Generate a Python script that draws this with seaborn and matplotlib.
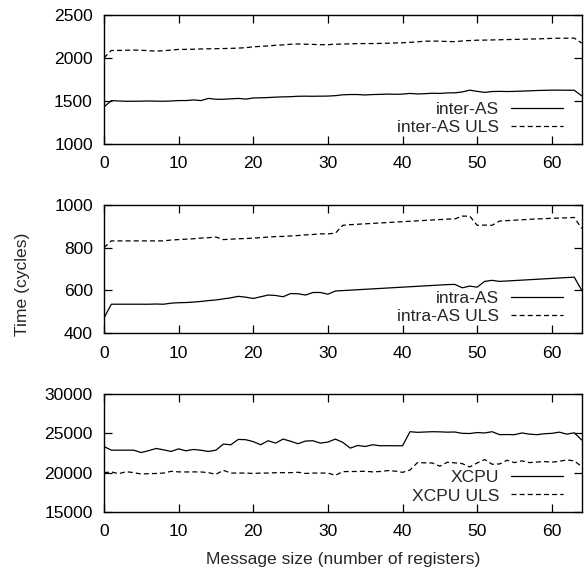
import numpy as np
import pandas as pd
import matplotlib
matplotlib.use("Agg")
import matplotlib.pyplot as plt
import seaborn as sns

# message size (number of registers)
sizes = list(range(65))

inter_as = [1430, 1505, 1500, 1497, 1497, 1498, 1500, 1498, 1497, 1500, 1505,
            1505, 1512, 1505, 1530, 1520, 1520, 1525, 1530, 1522, 1535,
            1537, 1540, 1545, 1548, 1550, 1555, 1556, 1555, 1556, 1557,
            1562, 1572, 1575, 1575, 1570, 1575, 1577, 1580, 1578, 1580,
            1588, 1582, 1585, 1590, 1588, 1594, 1595, 1605, 1626, 1612,
            1600, 1610, 1612, 1610, 1612, 1615, 1618, 1622, 1624, 1626,
            1626, 1625, 1625, 1560]
inter_as_uls = [2000, 2087, 2088, 2090, 2092, 2090, 2085, 2080, 2085, 2092, 2100,
                2100, 2102, 2105, 2107, 2108, 2110, 2112, 2115, 2120, 2130,
                2135, 2140, 2148, 2152, 2160, 2163, 2160, 2158, 2155, 2155,
                2160, 2162, 2165, 2167, 2168, 2168, 2170, 2172, 2175, 2177,
                2182, 2188, 2195, 2197, 2195, 2192, 2190, 2198, 2203, 2207,
                2208, 2210, 2212, 2214, 2216, 2218, 2220, 2222, 2225, 2228,
                2230, 2230, 2232, 2173]

intra_as = [470, 535, 535, 535, 535, 535, 535, 536, 535, 540, 542,
            543, 545, 548, 552, 555, 560, 565, 572, 568, 562,
            570, 578, 576, 570, 585, 584, 578, 590, 590, 582,
            597, 599, 601, 603, 605, 607, 609, 611, 613, 615,
            617, 619, 621, 623, 625, 627, 628, 612, 620, 615,
            642, 647, 642, 644, 646, 648, 650, 652, 654, 656,
            658, 660, 662, 600]
intra_as_uls = [800, 832, 832, 832, 832, 832, 832, 832, 832, 836, 838,
                840, 842, 845, 847, 850, 838, 840, 842, 843, 845,
                847, 850, 852, 853, 855, 857, 860, 862, 865, 865,
                868, 905, 908, 910, 912, 914, 916, 918, 920, 922,
                924, 926, 928, 930, 932, 934, 935, 948, 948, 905,
                906, 905, 925, 927, 929, 931, 933, 935, 936, 938,
                939, 940, 942, 890]

xcpu = [23330, 22860, 22860, 22860, 22860, 22560, 22800, 23080, 22900, 22700, 23030,
        22780, 22950, 22850, 22700, 22860, 23630, 23550, 24230, 24190, 23950,
        23550, 24060, 23760, 24270, 24000, 23680, 24020, 24060, 23760, 23890,
        24270, 23850, 23120, 23460, 23330, 23550, 23420, 23430, 23420, 23420,
        25210, 25130, 25170, 25210, 25190, 25150, 25170, 25000, 24980, 25100,
        25050, 25210, 24830, 24850, 24830, 25050, 24900, 24830, 24950, 25000,
        25150, 24900, 25070, 24150]
xcpu_uls = [20000, 20090, 19870, 20130, 20000, 19830, 19870, 19900, 19950, 20170, 20100,
            20090, 20100, 20090, 20000, 19790, 20300, 19950, 19950, 19950, 19900,
            19950, 19950, 20000, 20000, 20000, 20050, 19900, 19950, 19950, 19950,
            19660, 20130, 20150, 20150, 20180, 20100, 20150, 20260, 20200, 20040,
            20340, 21280, 21250, 21230, 20820, 21330, 21250, 21150, 20730, 21240,
            21670, 21070, 21110, 21580, 21280, 21500, 21280, 21350, 21410, 21330,
            21450, 21620, 21500, 20770]

panels = [
    ("inter-AS", inter_as, "inter-AS ULS", inter_as_uls, (1000, 2500), [1000, 1500, 2000, 2500]),
    ("intra-AS", intra_as, "intra-AS ULS", intra_as_uls, (400, 1000), [400, 600, 800, 1000]),
    ("XCPU", xcpu, "XCPU ULS", xcpu_uls, (15000, 30000), [15000, 20000, 25000, 30000]),
]

sns.set_style("ticks")
plt.rcParams['font.family'] = ['Liberation Sans', 'DejaVu Sans']
fs = 12.6

fig = plt.figure(figsize=(5.87, 5.68), dpi=100)
boxes = [(0.7465, 0.9736), (0.4137, 0.639), (0.0986, 0.3063)]

for (lab1, y1, lab2, y2, ylim, yticks), (b, t) in zip(panels, boxes):
    ax = fig.add_axes([0.177, b, 0.814, t - b])
    df = pd.DataFrame({"size": sizes, lab1: y1, lab2: y2})
    sns.lineplot(x="size", y=lab1, data=df, ax=ax, color="black", lw=0.9, label=lab1)
    sns.lineplot(x="size", y=lab2, data=df, ax=ax, color="black", lw=0.9,
                 linestyle=(0, (4, 2.5)), label=lab2)
    ax.set_xlim(0, 64)
    ax.set_ylim(*ylim)
    ax.set_xticks([0, 10, 20, 30, 40, 50, 60])
    ax.set_yticks(yticks)
    ax.tick_params(direction="in", length=6, width=0.9, top=True, right=True,
                   colors="black", labelsize=fs)
    ax.tick_params(axis="x", pad=9)
    ax.tick_params(axis="y", pad=8)
    for s in ax.spines.values():
        s.set_linewidth(1.0)
        s.set_color("black")
    ax.set_xlabel("")
    ax.set_ylabel("")
    leg = ax.legend(loc="lower right", frameon=False, markerfirst=False, handlelength=3.0,
                    fontsize=fs, borderaxespad=0.0, bbox_to_anchor=(0.976, 0.012),
                    labelspacing=0.2, handletextpad=0.65)
    # right-align the rows so labels line up on the right (gnuplot style)
    for col in leg._legend_handle_box.get_children():
        col.align = "right"
    if lab1 == "XCPU":
        ax.set_xlabel("Message size (number of registers)", fontsize=fs, labelpad=9)

fig.text(0.038, 0.5, "Time (cycles)", rotation=90, va="center", ha="center", fontsize=fs)

fig.savefig("out.png", dpi=100)
